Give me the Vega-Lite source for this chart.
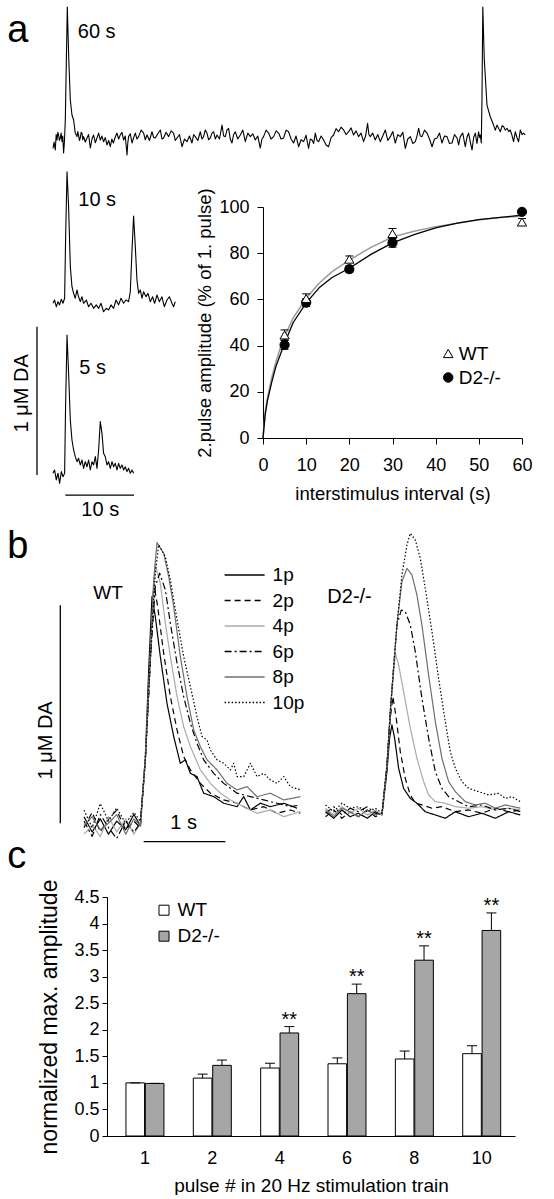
{
"$schema": "https://vega.github.io/schema/vega-lite/v6.json",
"padding": {"left": 7, "top": 6, "right": 0, "bottom": 0},
"background": "white",
"config": {
  "font": "Liberation Sans",
  "view": {"stroke": null},
  "axis": {"grid": false, "domainColor": "black", "tickColor": "black", "labelColor": "black", "titleColor": "black", "titleFontWeight": "normal", "labelFont": "Liberation Sans", "titleFont": "Liberation Sans", "domainWidth": 1, "tickWidth": 1, "labelOverlap": false},
  "legend": {"labelFont": "Liberation Sans", "labelColor": "black", "symbolOpacity": 1},
  "text": {"font": "Liberation Sans", "color": "black"},
  "line": {"strokeJoin": "round"}
},
"datasets": {
  "tr60": [
    {"t":-2.08,"v":-0.063},{"t":-1.92,"v":-0.02},{"t":-1.75,"v":-0.074},{"t":-1.62,"v":0.03},{"t":-1.5,"v":-0.007},{"t":-1.38,"v":0.045},{"t":-1.27,"v":0.027},{"t":-1.15,"v":-0.01},{"t":-1.02,"v":0.007},{"t":-0.9,"v":0.04},{"t":-0.77,"v":-0.018},{"t":-0.66,"v":0.02},{"t":-0.54,"v":-0.094},{"t":-0.42,"v":-0.02},{"t":-0.29,"v":0.128},{"t":0,"v":0.89},{"t":0.22,"v":0.533},{"t":0.44,"v":0.263},{"t":0.68,"v":0.162},{"t":0.92,"v":0.128},{"t":1.16,"v":0.04},
    {"t":1.41,"v":0.016},{"t":1.53,"v":0.05},{"t":1.64,"v":0.027},{"t":1.76,"v":-0.01},{"t":1.89,"v":0.007},{"t":2.01,"v":0.045},{"t":2.14,"v":0.04},{"t":2.25,"v":-0.005},{"t":2.37,"v":0.016},{"t":2.62,"v":-0.02},{"t":2.87,"v":0.007},{"t":3.1,"v":0.03},{"t":3.35,"v":-0.061},{"t":3.59,"v":0},{"t":3.83,"v":0.027},{"t":4.07,"v":-0.025},{"t":4.32,"v":0.007},{"t":4.56,"v":0.04},{"t":4.8,"v":-0.007},{"t":5.04,"v":0.02},{"t":5.28,"v":-0.018},{"t":5.53,"v":0.01},{"t":5.78,"v":-0.04},{"t":6.02,"v":-0.01},{"t":6.26,"v":-0.052},{"t":6.48,"v":0},{"t":6.7,"v":-0.027},{"t":6.96,"v":0.01},{"t":7.23,"v":0.04},{"t":7.47,"v":0},{"t":7.71,"v":0.027},{"t":7.95,"v":0.045},{"t":8.2,"v":-0.007},{"t":8.44,"v":0.02},{"t":8.69,"v":-0.108},{"t":8.8,"v":-0.03},{"t":8.92,"v":0.016},{"t":9.17,"v":0.035},{"t":9.42,"v":-0.027},{"t":9.66,"v":0.01},{"t":9.9,"v":0.04},{"t":10.14,"v":0},{"t":10.38,"v":0.016},{"t":10.75,"v":0.06},{"t":11.11,"v":0.04},{"t":11.35,"v":-0.005},{"t":11.6,"v":0.027},{"t":11.96,"v":-0.01},{"t":12.33,"v":0.049},{"t":12.57,"v":0.01},{"t":12.81,"v":0.007},{"t":13.17,"v":0.035},{"t":13.54,"v":0.061},{"t":13.78,"v":0},{"t":14.02,"v":0.007},{"t":14.38,"v":0.045},{"t":14.75,"v":0.016},{"t":15.11,"v":0.055},{"t":15.47,"v":0.04},{"t":15.72,"v":-0.01},{"t":15.97,"v":0.007},{"t":16.33,"v":0.03},{"t":16.7,"v":-0.052},{"t":17.06,"v":0},{"t":17.42,"v":-0.018},{"t":17.78,"v":0.02},{"t":18.15,"v":-0.027},{"t":18.39,"v":0.03},{"t":18.63,"v":0.016},{"t":19.0,"v":-0.01},{"t":19.36,"v":0.049},{"t":19.6,"v":0},{"t":19.84,"v":0.016},{"t":20.08,"v":0.06},{"t":20.33,"v":0.04},{"t":20.57,"v":-0.005},{"t":20.82,"v":0.007},{"t":21.06,"v":0.04},{"t":21.3,"v":0.049},{"t":21.55,"v":0},{"t":21.79,"v":0.027},{"t":22.15,"v":0},{"t":22.52,"v":0.094},{"t":22.76,"v":0.02},{"t":23.0,"v":0.016},{"t":23.24,"v":0.06},{"t":23.48,"v":0.072},{"t":23.72,"v":0},{"t":23.97,"v":-0.027},{"t":24.21,"v":0.03},{"t":24.45,"v":0.049},{"t":24.82,"v":0},{"t":25.18,"v":0.027},{"t":25.55,"v":0.06},{"t":25.91,"v":-0.018},{"t":26.28,"v":0.04},{"t":26.64,"v":0.016},{"t":27.0,"v":0.035},{"t":27.37,"v":-0.007},{"t":27.73,"v":0.02},{"t":28.09,"v":-0.061},{"t":28.33,"v":0},{"t":28.57,"v":0.016},{"t":28.94,"v":0.06},{"t":29.3,"v":0.04},{"t":29.66,"v":0},{"t":30.03,"v":0.016},{"t":30.4,"v":0.055},{"t":30.76,"v":0.04},{"t":31.12,"v":0},{"t":31.48,"v":0.007},{"t":31.85,"v":0.06},{"t":32.21,"v":0.049},{"t":32.57,"v":0},{"t":32.94,"v":-0.027},{"t":33.3,"v":0.02},{"t":33.67,"v":-0.052},{"t":34.03,"v":-0.005},{"t":34.4,"v":-0.018},{"t":34.76,"v":0.025},{"t":35.12,"v":-0.063},{"t":35.37,"v":0},{"t":35.62,"v":-0.007},{"t":35.86,"v":-0.03},{"t":36.1,"v":0.04},{"t":36.34,"v":-0.01},{"t":36.58,"v":-0.018},{"t":36.95,"v":0.02},{"t":37.31,"v":-0.007},{"t":37.67,"v":-0.04},{"t":38.03,"v":-0.052},{"t":38.4,"v":0.01},{"t":38.76,"v":0.027},{"t":39.12,"v":0.07},{"t":39.49,"v":0.049},{"t":39.85,"v":0.08},{"t":40.22,"v":0.061},{"t":40.58,"v":0.03},{"t":40.95,"v":0.049},{"t":41.31,"v":0.075},{"t":41.67,"v":0.027},{"t":42.04,"v":0.055},{"t":42.4,"v":0.016},{"t":42.76,"v":0.04},{"t":43.13,"v":-0.018},{"t":43.42,"v":0.02},{"t":43.71,"v":0.106},{"t":43.9,"v":0.03},{"t":44.1,"v":0.016},{"t":44.46,"v":0.04},{"t":44.83,"v":-0.007},{"t":45.19,"v":0.03},{"t":45.56,"v":-0.018},{"t":45.92,"v":0.02},{"t":46.29,"v":0.061},{"t":46.65,"v":-0.01},{"t":47.02,"v":0.016},{"t":47.38,"v":0.05},{"t":47.74,"v":-0.027},{"t":48.11,"v":0.03},{"t":48.47,"v":0.016},{"t":48.84,"v":0.045},{"t":49.2,"v":-0.063},{"t":49.56,"v":0},{"t":49.93,"v":0.016},{"t":50.3,"v":-0.03},{"t":50.66,"v":-0.018},{"t":50.9,"v":0.02},{"t":51.14,"v":0.072},{"t":51.38,"v":0.02},{"t":51.63,"v":0.016},{"t":52.0,"v":0.06},{"t":52.36,"v":0.04},{"t":52.72,"v":0},{"t":53.09,"v":-0.052},{"t":53.45,"v":0},{"t":53.81,"v":0.007},{"t":54.18,"v":0.04},{"t":54.54,"v":-0.027},{"t":54.9,"v":0.02},{"t":55.27,"v":0.016},{"t":55.63,"v":-0.03},{"t":56.0,"v":-0.027},{"t":56.36,"v":0.03},{"t":56.73,"v":0.007},{"t":56.96,"v":-0.04},{"t":57.2,"v":0.016},{"t":57.56,"v":0.04},{"t":57.93,"v":-0.052},{"t":58.17,"v":0.01},{"t":58.41,"v":0.04},{"t":58.66,"v":-0.02},{"t":58.91,"v":-0.074},{"t":59.15,"v":0.01},{"t":59.39,"v":0.04},{"t":59.63,"v":-0.03},{"t":59.87,"v":0.049},{"t":60.0,"v":0.01},{"t":60.12,"v":0.027},{"t":60.26,"v":-0.027},
    {"t":60.36,"v":0.263},{"t":60.48,"v":0.89},{"t":60.7,"v":0.533},{"t":61.09,"v":0.229},{"t":61.57,"v":0.15},{"t":62.05,"v":0.094},{"t":62.3,"v":0.06},{"t":62.55,"v":0.094},{"t":62.8,"v":0.07},{"t":63.03,"v":0.049},{"t":63.3,"v":0.09},{"t":63.52,"v":0.083},{"t":63.75,"v":0.06},{"t":64.0,"v":0.072},{"t":64.25,"v":0.05},{"t":64.48,"v":0.061},{"t":64.7,"v":0.03},{"t":64.96,"v":-0.018},{"t":65.21,"v":0.049},{"t":65.45,"v":0.01},{"t":65.69,"v":-0.018},{"t":65.94,"v":0.061},{"t":66.2,"v":0.03},{"t":66.42,"v":0.04},{"t":66.67,"v":0.027}
  ],
  "tr10": [
    {"t":-2.08,"v":-0.002},{"t":-1.85,"v":0.02},{"t":-1.6,"v":-0.025},{"t":-1.35,"v":0.009},{"t":-1.12,"v":-0.013},{"t":-0.87,"v":0.025},{"t":-0.63,"v":-0.002},{"t":-0.39,"v":0.032},{"t":-0.25,"v":0.425},{"t":-0.04,"v":0.885},{"t":0.19,"v":0.649},{"t":0.44,"v":0.245},{"t":0.68,"v":0.11},{"t":0.92,"v":0.065},{"t":1.16,"v":0.032},{"t":1.41,"v":0.088},{"t":1.64,"v":0.042},{"t":1.89,"v":0.009},{"t":2.14,"v":0.042},{"t":2.37,"v":-0.002},{"t":2.77,"v":0.02},{"t":3.1,"v":-0.025},{"t":3.45,"v":-0.002},{"t":3.83,"v":-0.036},{"t":4.22,"v":-0.013},{"t":4.56,"v":-0.036},{"t":4.91,"v":-0.002},{"t":5.28,"v":-0.059},{"t":5.68,"v":-0.036},{"t":6.01,"v":-0.047},{"t":6.36,"v":-0.013},{"t":6.74,"v":-0.036},{"t":7.09,"v":0.02},{"t":7.47,"v":-0.013},{"t":7.82,"v":0.032},{"t":8.2,"v":-0.002},{"t":8.54,"v":0.02},{"t":8.92,"v":0.009},{"t":9.17,"v":0.076},{"t":9.42,"v":0.357},{"t":9.65,"v":0.587},{"t":9.9,"v":0.38},{"t":10.14,"v":0.155},{"t":10.38,"v":0.065},{"t":10.63,"v":0.088},{"t":10.87,"v":0.032},{"t":11.11,"v":0.076},{"t":11.46,"v":0.042},{"t":11.75,"v":0.065},{"t":12.08,"v":0.009},{"t":12.42,"v":0.042},{"t":12.71,"v":-0.002},{"t":13.06,"v":0.054},{"t":13.39,"v":0.009},{"t":13.78,"v":0.042},{"t":14.12,"v":-0.025},{"t":14.51,"v":0.02},{"t":14.85,"v":0.042},{"t":15.24,"v":-0.002},{"t":15.47,"v":-0.025},{"t":15.72,"v":0.009}
  ],
  "tr5": [
    {"t":-2.08,"v":-0.022},{"t":-1.85,"v":0},{"t":-1.6,"v":-0.067},{"t":-1.35,"v":-0.022},{"t":-1.12,"v":-0.09},{"t":-0.87,"v":-0.011},{"t":-0.63,"v":-0.045},{"t":-0.39,"v":-0.022},{"t":-0.25,"v":0.427},{"t":-0.04,"v":0.91},{"t":0.19,"v":0.652},{"t":0.44,"v":0.337},{"t":0.68,"v":0.202},{"t":0.92,"v":0.135},{"t":1.16,"v":0.09},{"t":1.41,"v":0.056},{"t":1.64,"v":0.079},{"t":1.89,"v":0.034},{"t":2.14,"v":0.067},{"t":2.37,"v":0.011},{"t":2.62,"v":0.056},{"t":2.87,"v":0.022},{"t":3.1,"v":0.067},{"t":3.35,"v":0},{"t":3.6,"v":0.056},{"t":3.83,"v":0.034},{"t":4.08,"v":0.09},{"t":4.32,"v":0.011},{"t":4.56,"v":0.135},{"t":4.8,"v":0.326},{"t":5.05,"v":0.247},{"t":5.28,"v":0.113},{"t":5.53,"v":0.09},{"t":5.78,"v":0.034},{"t":6.01,"v":0.056},{"t":6.26,"v":0.011},{"t":6.51,"v":0.056},{"t":6.74,"v":0.022},{"t":6.99,"v":0.045},{"t":7.23,"v":0},{"t":7.47,"v":0.045},{"t":7.71,"v":0.011},{"t":7.96,"v":0.034},{"t":8.2,"v":0},{"t":8.44,"v":0.022},{"t":8.69,"v":-0.011},{"t":8.92,"v":0.011},{"t":9.17,"v":-0.022},{"t":9.42,"v":0},{"t":9.65,"v":-0.022}
  ],
  "curves": [
    {"c":"WT","x":0,"y":0},{"c":"WT","x":0.5,"y":11},{"c":"WT","x":1,"y":17},{"c":"WT","x":2,"y":26},{"c":"WT","x":3,"y":33},{"c":"WT","x":4,"y":39},{"c":"WT","x":5,"y":44},{"c":"WT","x":7,"y":52},{"c":"WT","x":10,"y":60.5},{"c":"WT","x":13,"y":67},{"c":"WT","x":16,"y":72},{"c":"WT","x":20,"y":77},{"c":"WT","x":25,"y":82.5},{"c":"WT","x":30,"y":87},{"c":"WT","x":35,"y":89.5},{"c":"WT","x":40,"y":91.5},{"c":"WT","x":45,"y":93},{"c":"WT","x":50,"y":94.5},{"c":"WT","x":55,"y":95.5},{"c":"WT","x":60,"y":96},
    {"c":"D2-/-","x":0,"y":0},{"c":"D2-/-","x":0.5,"y":10},{"c":"D2-/-","x":1,"y":16},{"c":"D2-/-","x":2,"y":24},{"c":"D2-/-","x":3,"y":31},{"c":"D2-/-","x":4,"y":36},{"c":"D2-/-","x":5,"y":41},{"c":"D2-/-","x":7,"y":50},{"c":"D2-/-","x":10,"y":58.5},{"c":"D2-/-","x":13,"y":65},{"c":"D2-/-","x":16,"y":69.5},{"c":"D2-/-","x":20,"y":73.5},{"c":"D2-/-","x":25,"y":79.5},{"c":"D2-/-","x":30,"y":84.5},{"c":"D2-/-","x":35,"y":88},{"c":"D2-/-","x":40,"y":91},{"c":"D2-/-","x":45,"y":93},{"c":"D2-/-","x":50,"y":94.5},{"c":"D2-/-","x":55,"y":95.5},{"c":"D2-/-","x":60,"y":96.5}
  ],
  "pts": [
    {"g":"D2-/-","x":5,"y":40.3,"lo":38.4,"hi":42.2},{"g":"D2-/-","x":10,"y":58.6,"lo":56.9,"hi":60.3},{"g":"D2-/-","x":20,"y":73.1,"lo":71.6,"hi":74.6},{"g":"D2-/-","x":30,"y":84.5,"lo":82.6,"hi":86.4},{"g":"D2-/-","x":60,"y":97.9,"lo":96.9,"hi":98.9},
    {"g":"WT","x":5,"y":44.6,"lo":42.4,"hi":46.8},{"g":"WT","x":10,"y":60.4,"lo":58.4,"hi":62.4},{"g":"WT","x":20,"y":77.4,"lo":76,"hi":78.8},{"g":"WT","x":30,"y":88.5,"lo":86.3,"hi":90.7},{"g":"WT","x":60,"y":93.5,"lo":92,"hi":95}
  ],
  "wt": [
    {"p":"1p","t":-0.71,"v":0.03},{"p":"1p","t":-0.61,"v":-0.04},{"p":"1p","t":-0.51,"v":0.02},{"p":"1p","t":-0.41,"v":-0.05},{"p":"1p","t":-0.31,"v":0.01},{"p":"1p","t":-0.2,"v":-0.03},{"p":"1p","t":-0.1,"v":0.04},{"p":"1p","t":-0.02,"v":-0.01},{"p":"1p","t":0.041,"v":0.306},{"p":"1p","t":0.082,"v":0.703},{"p":"1p","t":0.122,"v":1.04},{"p":"1p","t":0.163,"v":0.948},{"p":"1p","t":0.224,"v":0.765},{"p":"1p","t":0.306,"v":0.55},{"p":"1p","t":0.388,"v":0.398},{"p":"1p","t":0.469,"v":0.275},{"p":"1p","t":0.531,"v":0.291},{"p":"1p","t":0.592,"v":0.229},{"p":"1p","t":0.673,"v":0.214},{"p":"1p","t":0.755,"v":0.138},{"p":"1p","t":0.878,"v":0.122},{"p":"1p","t":1.0,"v":0.092},{"p":"1p","t":1.163,"v":0.076},{"p":"1p","t":1.245,"v":0.122},{"p":"1p","t":1.327,"v":0.061},{"p":"1p","t":1.449,"v":0.092},{"p":"1p","t":1.571,"v":0.076},{"p":"1p","t":1.735,"v":0.092},{"p":"1p","t":1.898,"v":0.069},
    {"p":"2p","t":-0.71,"v":-0.02},{"p":"2p","t":-0.61,"v":0.05},{"p":"2p","t":-0.51,"v":-0.04},{"p":"2p","t":-0.41,"v":0.02},{"p":"2p","t":-0.31,"v":0.06},{"p":"2p","t":-0.2,"v":-0.03},{"p":"2p","t":-0.1,"v":0.01},{"p":"2p","t":-0.02,"v":-0.02},{"p":"2p","t":0.041,"v":0.291},{"p":"2p","t":0.102,"v":0.734},{"p":"2p","t":0.143,"v":1.101},{"p":"2p","t":0.192,"v":0.994},{"p":"2p","t":0.265,"v":0.78},{"p":"2p","t":0.347,"v":0.581},{"p":"2p","t":0.429,"v":0.428},{"p":"2p","t":0.51,"v":0.306},{"p":"2p","t":0.592,"v":0.245},{"p":"2p","t":0.714,"v":0.183},{"p":"2p","t":0.837,"v":0.138},{"p":"2p","t":1.0,"v":0.107},{"p":"2p","t":1.163,"v":0.092},{"p":"2p","t":1.327,"v":0.061},{"p":"2p","t":1.49,"v":0.076},{"p":"2p","t":1.653,"v":0.046},{"p":"2p","t":1.816,"v":0.061},{"p":"2p","t":1.939,"v":0.046},
    {"p":"4p","t":-0.71,"v":-0.05},{"p":"4p","t":-0.61,"v":-0.01},{"p":"4p","t":-0.51,"v":-0.06},{"p":"4p","t":-0.41,"v":0.03},{"p":"4p","t":-0.31,"v":-0.04},{"p":"4p","t":-0.2,"v":0.02},{"p":"4p","t":-0.1,"v":-0.05},{"p":"4p","t":-0.02,"v":0},{"p":"4p","t":0.041,"v":0.306},{"p":"4p","t":0.102,"v":0.765},{"p":"4p","t":0.163,"v":1.185},{"p":"4p","t":0.224,"v":1.101},{"p":"4p","t":0.286,"v":0.917},{"p":"4p","t":0.347,"v":0.765},{"p":"4p","t":0.429,"v":0.581},{"p":"4p","t":0.51,"v":0.443},{"p":"4p","t":0.592,"v":0.352},{"p":"4p","t":0.714,"v":0.245},{"p":"4p","t":0.837,"v":0.183},{"p":"4p","t":0.959,"v":0.138},{"p":"4p","t":1.082,"v":0.107},{"p":"4p","t":1.245,"v":0.076},{"p":"4p","t":1.408,"v":0.046},{"p":"4p","t":1.571,"v":0.061},{"p":"4p","t":1.735,"v":0.03},{"p":"4p","t":1.939,"v":0.054},
    {"p":"6p","t":-0.71,"v":0.01},{"p":"6p","t":-0.61,"v":-0.06},{"p":"6p","t":-0.51,"v":0.04},{"p":"6p","t":-0.41,"v":-0.02},{"p":"6p","t":-0.31,"v":-0.07},{"p":"6p","t":-0.2,"v":0.01},{"p":"6p","t":-0.1,"v":-0.04},{"p":"6p","t":-0.02,"v":0},{"p":"6p","t":0.041,"v":0.291},{"p":"6p","t":0.102,"v":0.749},{"p":"6p","t":0.163,"v":1.086},{"p":"6p","t":0.216,"v":1.147},{"p":"6p","t":0.286,"v":1.07},{"p":"6p","t":0.347,"v":0.917},{"p":"6p","t":0.429,"v":0.734},{"p":"6p","t":0.51,"v":0.581},{"p":"6p","t":0.592,"v":0.459},{"p":"6p","t":0.673,"v":0.367},{"p":"6p","t":0.755,"v":0.291},{"p":"6p","t":0.878,"v":0.229},{"p":"6p","t":1.0,"v":0.183},{"p":"6p","t":1.163,"v":0.138},{"p":"6p","t":1.327,"v":0.122},{"p":"6p","t":1.49,"v":0.107},{"p":"6p","t":1.653,"v":0.092},{"p":"6p","t":1.816,"v":0.076},{"p":"6p","t":1.939,"v":0.084},
    {"p":"8p","t":-0.71,"v":-0.01},{"p":"8p","t":-0.61,"v":0.03},{"p":"8p","t":-0.51,"v":-0.03},{"p":"8p","t":-0.41,"v":0},{"p":"8p","t":-0.31,"v":0.04},{"p":"8p","t":-0.2,"v":-0.05},{"p":"8p","t":-0.1,"v":0.02},{"p":"8p","t":-0.02,"v":-0.01},{"p":"8p","t":0.041,"v":0.291},{"p":"8p","t":0.102,"v":0.78},{"p":"8p","t":0.143,"v":1.116},{"p":"8p","t":0.184,"v":1.287},{"p":"8p","t":0.265,"v":1.239},{"p":"8p","t":0.327,"v":1.131},{"p":"8p","t":0.388,"v":0.994},{"p":"8p","t":0.469,"v":0.765},{"p":"8p","t":0.551,"v":0.581},{"p":"8p","t":0.633,"v":0.428},{"p":"8p","t":0.714,"v":0.352},{"p":"8p","t":0.796,"v":0.291},{"p":"8p","t":0.918,"v":0.245},{"p":"8p","t":1.041,"v":0.183},{"p":"8p","t":1.163,"v":0.153},{"p":"8p","t":1.286,"v":0.168},{"p":"8p","t":1.408,"v":0.122},{"p":"8p","t":1.571,"v":0.138},{"p":"8p","t":1.735,"v":0.107},{"p":"8p","t":1.939,"v":0.122},
    {"p":"10p","t":-0.71,"v":0.06},{"p":"10p","t":-0.61,"v":-0.02},{"p":"10p","t":-0.51,"v":0.09},{"p":"10p","t":-0.41,"v":0.01},{"p":"10p","t":-0.31,"v":0.07},{"p":"10p","t":-0.2,"v":0},{"p":"10p","t":-0.1,"v":0.05},{"p":"10p","t":-0.02,"v":0.01},{"p":"10p","t":0.041,"v":0.291},{"p":"10p","t":0.102,"v":0.765},{"p":"10p","t":0.163,"v":1.147},{"p":"10p","t":0.204,"v":1.277},{"p":"10p","t":0.286,"v":1.223},{"p":"10p","t":0.347,"v":1.116},{"p":"10p","t":0.429,"v":0.933},{"p":"10p","t":0.51,"v":0.765},{"p":"10p","t":0.592,"v":0.627},{"p":"10p","t":0.673,"v":0.489},{"p":"10p","t":0.735,"v":0.398},{"p":"10p","t":0.796,"v":0.382},{"p":"10p","t":0.837,"v":0.336},{"p":"10p","t":0.918,"v":0.291},{"p":"10p","t":1.0,"v":0.275},{"p":"10p","t":1.082,"v":0.245},{"p":"10p","t":1.122,"v":0.275},{"p":"10p","t":1.163,"v":0.214},{"p":"10p","t":1.245,"v":0.214},{"p":"10p","t":1.327,"v":0.275},{"p":"10p","t":1.408,"v":0.214},{"p":"10p","t":1.49,"v":0.229},{"p":"10p","t":1.571,"v":0.199},{"p":"10p","t":1.653,"v":0.183},{"p":"10p","t":1.735,"v":0.214},{"p":"10p","t":1.816,"v":0.168},{"p":"10p","t":1.939,"v":0.153}
  ],
  "d2": [
    {"p":"1p","t":-0.71,"v":0.015},{"p":"1p","t":-0.61,"v":-0.015},{"p":"1p","t":-0.51,"v":0.023},{"p":"1p","t":-0.41,"v":-0.008},{"p":"1p","t":-0.31,"v":0.008},{"p":"1p","t":-0.2,"v":-0.015},{"p":"1p","t":-0.1,"v":0.015},{"p":"1p","t":-0.02,"v":0},{"p":"1p","t":0.041,"v":0.199},{"p":"1p","t":0.073,"v":0.352},{"p":"1p","t":0.102,"v":0.413},{"p":"1p","t":0.135,"v":0.352},{"p":"1p","t":0.184,"v":0.214},{"p":"1p","t":0.245,"v":0.122},{"p":"1p","t":0.327,"v":0.076},{"p":"1p","t":0.408,"v":0.054},{"p":"1p","t":0.51,"v":0.015},{"p":"1p","t":0.633,"v":0},{"p":"1p","t":0.755,"v":-0.015},{"p":"1p","t":0.878,"v":0.015},{"p":"1p","t":1.041,"v":-0.008},{"p":"1p","t":1.204,"v":0.008},{"p":"1p","t":1.367,"v":-0.015},{"p":"1p","t":1.531,"v":0.015},{"p":"1p","t":1.673,"v":0},
    {"p":"2p","t":-0.71,"v":-0.008},{"p":"2p","t":-0.61,"v":0.023},{"p":"2p","t":-0.51,"v":-0.015},{"p":"2p","t":-0.41,"v":0.015},{"p":"2p","t":-0.31,"v":-0.008},{"p":"2p","t":-0.2,"v":0.023},{"p":"2p","t":-0.1,"v":-0.008},{"p":"2p","t":-0.02,"v":0.008},{"p":"2p","t":0.041,"v":0.214},{"p":"2p","t":0.082,"v":0.443},{"p":"2p","t":0.114,"v":0.543},{"p":"2p","t":0.155,"v":0.443},{"p":"2p","t":0.204,"v":0.291},{"p":"2p","t":0.265,"v":0.168},{"p":"2p","t":0.327,"v":0.092},{"p":"2p","t":0.388,"v":0.054},{"p":"2p","t":0.469,"v":0.046},{"p":"2p","t":0.592,"v":0.031},{"p":"2p","t":0.714,"v":0.038},{"p":"2p","t":0.878,"v":0.015},{"p":"2p","t":1.041,"v":0.023},{"p":"2p","t":1.204,"v":0.008},{"p":"2p","t":1.367,"v":0.031},{"p":"2p","t":1.531,"v":0.015},{"p":"2p","t":1.673,"v":0.023},
    {"p":"4p","t":-0.71,"v":0.031},{"p":"4p","t":-0.61,"v":0},{"p":"4p","t":-0.51,"v":0.038},{"p":"4p","t":-0.41,"v":0.008},{"p":"4p","t":-0.31,"v":0.031},{"p":"4p","t":-0.2,"v":0},{"p":"4p","t":-0.1,"v":0.023},{"p":"4p","t":-0.02,"v":0},{"p":"4p","t":0.041,"v":0.229},{"p":"4p","t":0.082,"v":0.474},{"p":"4p","t":0.143,"v":0.742},{"p":"4p","t":0.184,"v":0.688},{"p":"4p","t":0.245,"v":0.566},{"p":"4p","t":0.327,"v":0.398},{"p":"4p","t":0.408,"v":0.26},{"p":"4p","t":0.49,"v":0.153},{"p":"4p","t":0.551,"v":0.092},{"p":"4p","t":0.633,"v":0.061},{"p":"4p","t":0.755,"v":0.054},{"p":"4p","t":0.878,"v":0.038},{"p":"4p","t":1.041,"v":0.031},{"p":"4p","t":1.204,"v":0.038},{"p":"4p","t":1.367,"v":0.023},{"p":"4p","t":1.531,"v":0.031},{"p":"4p","t":1.673,"v":0.023},
    {"p":"6p","t":-0.71,"v":0.008},{"p":"6p","t":-0.61,"v":0.038},{"p":"6p","t":-0.51,"v":0},{"p":"6p","t":-0.41,"v":0.031},{"p":"6p","t":-0.31,"v":0.015},{"p":"6p","t":-0.2,"v":0.038},{"p":"6p","t":-0.1,"v":0.008},{"p":"6p","t":-0.02,"v":0},{"p":"6p","t":0.041,"v":0.229},{"p":"6p","t":0.082,"v":0.474},{"p":"6p","t":0.122,"v":0.673},{"p":"6p","t":0.163,"v":0.872},{"p":"6p","t":0.216,"v":0.94},{"p":"6p","t":0.265,"v":0.933},{"p":"6p","t":0.327,"v":0.872},{"p":"6p","t":0.388,"v":0.749},{"p":"6p","t":0.469,"v":0.535},{"p":"6p","t":0.551,"v":0.352},{"p":"6p","t":0.633,"v":0.199},{"p":"6p","t":0.714,"v":0.122},{"p":"6p","t":0.796,"v":0.084},{"p":"6p","t":0.918,"v":0.061},{"p":"6p","t":1.041,"v":0.038},{"p":"6p","t":1.204,"v":0.046},{"p":"6p","t":1.367,"v":0.023},{"p":"6p","t":1.531,"v":0.031},{"p":"6p","t":1.673,"v":0.015},
    {"p":"8p","t":-0.71,"v":0.023},{"p":"8p","t":-0.61,"v":-0.008},{"p":"8p","t":-0.51,"v":0.031},{"p":"8p","t":-0.41,"v":0.015},{"p":"8p","t":-0.31,"v":-0.008},{"p":"8p","t":-0.2,"v":0.023},{"p":"8p","t":-0.1,"v":0},{"p":"8p","t":-0.02,"v":0.008},{"p":"8p","t":0.041,"v":0.229},{"p":"8p","t":0.082,"v":0.474},{"p":"8p","t":0.122,"v":0.673},{"p":"8p","t":0.163,"v":0.872},{"p":"8p","t":0.224,"v":1.07},{"p":"8p","t":0.286,"v":1.131},{"p":"8p","t":0.347,"v":1.101},{"p":"8p","t":0.408,"v":1.009},{"p":"8p","t":0.469,"v":0.872},{"p":"8p","t":0.551,"v":0.642},{"p":"8p","t":0.633,"v":0.428},{"p":"8p","t":0.714,"v":0.26},{"p":"8p","t":0.796,"v":0.153},{"p":"8p","t":0.878,"v":0.107},{"p":"8p","t":1.0,"v":0.061},{"p":"8p","t":1.122,"v":0.046},{"p":"8p","t":1.245,"v":0.054},{"p":"8p","t":1.367,"v":0.031},{"p":"8p","t":1.49,"v":0.046},{"p":"8p","t":1.673,"v":0.031},
    {"p":"10p","t":-0.71,"v":0.046},{"p":"10p","t":-0.61,"v":0.015},{"p":"10p","t":-0.51,"v":0.054},{"p":"10p","t":-0.41,"v":0.031},{"p":"10p","t":-0.31,"v":0.038},{"p":"10p","t":-0.2,"v":0.015},{"p":"10p","t":-0.1,"v":0.031},{"p":"10p","t":-0.02,"v":0.008},{"p":"10p","t":0.041,"v":0.229},{"p":"10p","t":0.082,"v":0.474},{"p":"10p","t":0.122,"v":0.673},{"p":"10p","t":0.163,"v":0.872},{"p":"10p","t":0.224,"v":1.101},{"p":"10p","t":0.286,"v":1.239},{"p":"10p","t":0.327,"v":1.292},{"p":"10p","t":0.388,"v":1.261},{"p":"10p","t":0.449,"v":1.177},{"p":"10p","t":0.51,"v":1.04},{"p":"10p","t":0.592,"v":0.841},{"p":"10p","t":0.673,"v":0.627},{"p":"10p","t":0.755,"v":0.428},{"p":"10p","t":0.816,"v":0.291},{"p":"10p","t":0.878,"v":0.214},{"p":"10p","t":0.959,"v":0.153},{"p":"10p","t":1.041,"v":0.122},{"p":"10p","t":1.163,"v":0.107},{"p":"10p","t":1.286,"v":0.092},{"p":"10p","t":1.408,"v":0.099},{"p":"10p","t":1.49,"v":0.076},{"p":"10p","t":1.571,"v":0.084},{"p":"10p","t":1.673,"v":0.061}
  ],
  "bars": [
    {"p":1,"g":"WT","m":1.0,"e":1.0,"s":""},{"p":1,"g":"D2-/-","m":0.99,"e":0.99,"s":""},
    {"p":2,"g":"WT","m":1.09,"e":1.165,"s":""},{"p":2,"g":"D2-/-","m":1.33,"e":1.43,"s":""},
    {"p":4,"g":"WT","m":1.28,"e":1.37,"s":""},{"p":4,"g":"D2-/-","m":1.94,"e":2.06,"s":"**"},
    {"p":6,"g":"WT","m":1.36,"e":1.47,"s":""},{"p":6,"g":"D2-/-","m":2.68,"e":2.86,"s":"**"},
    {"p":8,"g":"WT","m":1.45,"e":1.6,"s":""},{"p":8,"g":"D2-/-","m":3.31,"e":3.58,"s":"**"},
    {"p":10,"g":"WT","m":1.55,"e":1.7,"s":""},{"p":10,"g":"D2-/-","m":3.87,"e":4.2,"s":"**"}
  ]
},
"spacing": 60,
"bounds": "flush",
"resolve": {
  "scale": {"color": "independent", "fill": "independent", "shape": "independent", "strokeDash": "independent"}
},
"vconcat": [
  {
    "width": 415, "height": 231,
    "resolve": {"scale": {"x": "independent", "y": "independent"}},
    "layer": [
      {
        "layer": [
          {"data": {"name": "curves"}, "transform": [{"filter": "datum.c === 'WT'"}], "mark": {"type": "line", "strokeWidth": 1.5, "color": "#9a9a9a"},
           "encoding": {
             "x": {"field": "x", "type": "quantitative", "scale": {"domain": [0, 60], "range": [156, 415], "nice": false}, "axis": {"orient": "bottom", "values": [0,10,20,30,40,50,60], "title": "interstimulus interval (s)", "labelFontSize": 18, "titleFontSize": 18.5, "tickSize": 6, "labelPadding": 12, "titlePadding": 10, "labelFlush": false}},
             "y": {"field": "y", "type": "quantitative", "scale": {"domain": [0, 100], "nice": false}, "axis": {"orient": "left", "offset": -156, "values": [0,20,40,60,80,100], "title": "2.pulse amplitude (% of 1. pulse)", "labelFontSize": 18, "titleFontSize": 18.5, "tickSize": 6, "labelPadding": 8, "titlePadding": 4}}}},
          {"data": {"name": "curves"}, "transform": [{"filter": "datum.c === 'D2-/-'"}], "mark": {"type": "line", "strokeWidth": 1.3, "color": "black"},
           "encoding": {
             "x": {"field": "x", "type": "quantitative", "scale": {"domain": [0, 60], "range": [156, 415], "nice": false}, "axis": {"orient": "bottom", "values": [0,10,20,30,40,50,60], "title": "interstimulus interval (s)", "labelFontSize": 18, "titleFontSize": 18.5, "tickSize": 6, "labelPadding": 12, "titlePadding": 10, "labelFlush": false}},
             "y": {"field": "y", "type": "quantitative", "scale": {"domain": [0, 100], "nice": false}, "axis": {"orient": "left", "offset": -156, "values": [0,20,40,60,80,100], "title": "2.pulse amplitude (% of 1. pulse)", "labelFontSize": 18, "titleFontSize": 18.5, "tickSize": 6, "labelPadding": 8, "titlePadding": 4}}}},
          {"data": {"name": "pts"}, "mark": {"type": "rule", "color": "black", "strokeWidth": 1},
           "encoding": {
             "x": {"field": "x", "type": "quantitative", "scale": {"domain": [0, 60], "range": [156, 415], "nice": false}, "axis": {"orient": "bottom", "values": [0,10,20,30,40,50,60], "title": "interstimulus interval (s)", "labelFontSize": 18, "titleFontSize": 18.5, "tickSize": 6, "labelPadding": 12, "titlePadding": 10, "labelFlush": false}},
             "y": {"field": "lo", "type": "quantitative", "scale": {"domain": [0, 100], "nice": false}, "axis": {"orient": "left", "offset": -156, "values": [0,20,40,60,80,100], "title": "2.pulse amplitude (% of 1. pulse)", "labelFontSize": 18, "titleFontSize": 18.5, "tickSize": 6, "labelPadding": 8, "titlePadding": 4}},
             "y2": {"field": "hi"}}},
          {"data": {"name": "pts"}, "mark": {"type": "tick", "orient": "horizontal", "size": 8, "thickness": 1, "color": "black", "opacity": 1},
           "encoding": {
             "x": {"field": "x", "type": "quantitative", "scale": {"domain": [0, 60], "range": [156, 415], "nice": false}, "axis": {"orient": "bottom", "values": [0,10,20,30,40,50,60], "title": "interstimulus interval (s)", "labelFontSize": 18, "titleFontSize": 18.5, "tickSize": 6, "labelPadding": 12, "titlePadding": 10, "labelFlush": false}},
             "y": {"field": "hi", "type": "quantitative", "scale": {"domain": [0, 100], "nice": false}, "axis": {"orient": "left", "offset": -156, "values": [0,20,40,60,80,100], "title": "2.pulse amplitude (% of 1. pulse)", "labelFontSize": 18, "titleFontSize": 18.5, "tickSize": 6, "labelPadding": 8, "titlePadding": 4}}}},
          {"data": {"name": "pts"}, "mark": {"type": "tick", "orient": "horizontal", "size": 8, "thickness": 1, "color": "black", "opacity": 1},
           "encoding": {
             "x": {"field": "x", "type": "quantitative", "scale": {"domain": [0, 60], "range": [156, 415], "nice": false}, "axis": {"orient": "bottom", "values": [0,10,20,30,40,50,60], "title": "interstimulus interval (s)", "labelFontSize": 18, "titleFontSize": 18.5, "tickSize": 6, "labelPadding": 12, "titlePadding": 10, "labelFlush": false}},
             "y": {"field": "lo", "type": "quantitative", "scale": {"domain": [0, 100], "nice": false}, "axis": {"orient": "left", "offset": -156, "values": [0,20,40,60,80,100], "title": "2.pulse amplitude (% of 1. pulse)", "labelFontSize": 18, "titleFontSize": 18.5, "tickSize": 6, "labelPadding": 8, "titlePadding": 4}}}},
          {"data": {"name": "pts"}, "mark": {"type": "point", "filled": true, "stroke": "black", "strokeWidth": 1, "size": 85, "opacity": 1},
           "encoding": {
             "x": {"field": "x", "type": "quantitative", "scale": {"domain": [0, 60], "range": [156, 415], "nice": false}, "axis": {"orient": "bottom", "values": [0,10,20,30,40,50,60], "title": "interstimulus interval (s)", "labelFontSize": 18, "titleFontSize": 18.5, "tickSize": 6, "labelPadding": 12, "titlePadding": 10, "labelFlush": false}},
             "y": {"field": "y", "type": "quantitative", "scale": {"domain": [0, 100], "nice": false}, "axis": {"orient": "left", "offset": -156, "values": [0,20,40,60,80,100], "title": "2.pulse amplitude (% of 1. pulse)", "labelFontSize": 18, "titleFontSize": 18.5, "tickSize": 6, "labelPadding": 8, "titlePadding": 4}},
             "fill": {"field": "g", "type": "nominal", "scale": {"domain": ["WT", "D2-/-"], "range": ["white", "black"]},
                      "legend": {"title": null, "orient": "none", "legendX": 331.7, "legendY": 137, "labelFontSize": 19, "symbolSize": 90, "symbolStrokeColor": "black", "symbolStrokeWidth": 1, "rowPadding": 4, "labelOffset": 1, "padding": 0,
                                 "encode": {"symbols": {"update": {"stroke": {"value": "black"}, "strokeWidth": {"value": 1}, "opacity": {"value": 1}}}}}},
             "shape": {"field": "g", "type": "nominal", "scale": {"domain": ["WT", "D2-/-"], "range": ["triangle-up", "circle"]},
                      "legend": {"title": null, "orient": "none", "legendX": 331.7, "legendY": 137, "labelFontSize": 19, "symbolSize": 90, "symbolStrokeColor": "black", "symbolStrokeWidth": 1, "rowPadding": 4, "labelOffset": 1, "padding": 0,
                                 "encode": {"symbols": {"update": {"stroke": {"value": "black"}, "strokeWidth": {"value": 1}, "opacity": {"value": 1}}}}}}}}
        ]
      },
      {
        "resolve": {"scale": {"y": "independent"}},
        "layer": [
          {"layer": [
            {"data": {"name": "tr60"}, "mark": {"type": "line", "color": "black", "strokeWidth": 1.1},
             "encoding": {"x": {"field": "t", "type": "quantitative", "scale": {"domain": [5.779, 66.187], "nice": false, "zero": false}, "axis": null},
                          "y": {"field": "v", "type": "quantitative", "scale": {"domain": [-2.0162, -0.4585], "nice": false, "zero": false}, "axis": null}}},
            {"data": {"values": [{}]}, "mark": {"type": "text", "fontSize": 38, "align": "left", "baseline": "alphabetic"},
             "encoding": {"x": {"datum": -8.734, "type": "quantitative", "scale": {"domain": [5.779, 66.187], "nice": false, "zero": false}, "axis": null},
                          "y": {"datum": 0.656, "type": "quantitative", "scale": {"domain": [-2.0162, -0.4585], "nice": false, "zero": false}, "axis": null},
                          "text": {"value": "a"}}},
            {"data": {"values": [{}]}, "mark": {"type": "text", "fontSize": 20, "align": "left", "baseline": "middle"},
             "encoding": {"x": {"datum": 1.53, "type": "quantitative", "scale": {"domain": [5.779, 66.187], "nice": false, "zero": false}, "axis": null},
                          "y": {"datum": 0.7235, "type": "quantitative", "scale": {"domain": [-2.0162, -0.4585], "nice": false, "zero": false}, "axis": null},
                          "text": {"value": "60 s"}}}
          ]},
          {"layer": [
            {"data": {"name": "tr10"}, "mark": {"type": "line", "color": "black", "strokeWidth": 1.1},
             "encoding": {"x": {"field": "t", "type": "quantitative", "scale": {"domain": [5.779, 66.187], "nice": false, "zero": false}, "axis": null},
                          "y": {"field": "v", "type": "quantitative", "scale": {"domain": [-0.9104, 0.6473], "nice": false, "zero": false}, "axis": null}}},
            {"data": {"values": [{}]}, "mark": {"type": "text", "fontSize": 20, "align": "left", "baseline": "middle"},
             "encoding": {"x": {"datum": 1.6, "type": "quantitative", "scale": {"domain": [5.779, 66.187], "nice": false, "zero": false}, "axis": null},
                          "y": {"datum": 0.695, "type": "quantitative", "scale": {"domain": [-0.9104, 0.6473], "nice": false, "zero": false}, "axis": null},
                          "text": {"value": "10 s"}}}
          ]},
          {"layer": [
            {"data": {"name": "tr5"}, "mark": {"type": "line", "color": "black", "strokeWidth": 1.1},
             "encoding": {"x": {"field": "t", "type": "quantitative", "scale": {"domain": [5.779, 66.187], "nice": false, "zero": false}, "axis": null},
                          "y": {"field": "v", "type": "quantitative", "scale": {"domain": [0.2157, 1.7734], "nice": false, "zero": false}, "axis": null}}},
            {"data": {"values": [{}]}, "mark": {"type": "rule", "color": "black", "strokeWidth": 1.3},
             "encoding": {"x": {"datum": -4.41, "type": "quantitative", "scale": {"domain": [5.779, 66.187], "nice": false, "zero": false}, "axis": null},
                          "y": {"datum": -0.034, "type": "quantitative", "scale": {"domain": [0.2157, 1.7734], "nice": false, "zero": false}, "axis": null},
                          "y2": {"datum": 0.966}}},
            {"data": {"values": [{}]}, "mark": {"type": "rule", "color": "black", "strokeWidth": 1.3},
             "encoding": {"x": {"datum": -0.29, "type": "quantitative", "scale": {"domain": [5.779, 66.187], "nice": false, "zero": false}, "axis": null},
                          "x2": {"datum": 9.71},
                          "y": {"datum": -0.169, "type": "quantitative", "scale": {"domain": [0.2157, 1.7734], "nice": false, "zero": false}, "axis": null}}},
            {"data": {"values": [{}]}, "mark": {"type": "text", "fontSize": 20, "align": "left", "baseline": "middle"},
             "encoding": {"x": {"datum": 1.75, "type": "quantitative", "scale": {"domain": [5.779, 66.187], "nice": false, "zero": false}, "axis": null},
                          "y": {"datum": 0.688, "type": "quantitative", "scale": {"domain": [0.2157, 1.7734], "nice": false, "zero": false}, "axis": null},
                          "text": {"value": "5 s"}}},
            {"data": {"values": [{}]}, "mark": {"type": "text", "fontSize": 20, "align": "center", "baseline": "middle"},
             "encoding": {"x": {"datum": 4.8, "type": "quantitative", "scale": {"domain": [5.779, 66.187], "nice": false, "zero": false}, "axis": null},
                          "y": {"datum": -0.27, "type": "quantitative", "scale": {"domain": [0.2157, 1.7734], "nice": false, "zero": false}, "axis": null},
                          "text": {"value": "10 s"}}},
            {"data": {"values": [{}]}, "mark": {"type": "text", "fontSize": 20, "align": "center", "baseline": "middle", "angle": 270},
             "encoding": {"x": {"datum": -6.55, "type": "quantitative", "scale": {"domain": [5.779, 66.187], "nice": false, "zero": false}, "axis": null},
                          "y": {"datum": 0.517, "type": "quantitative", "scale": {"domain": [0.2157, 1.7734], "nice": false, "zero": false}, "axis": null},
                          "text": {"value": "1 μM DA"}}}
          ]}
        ]
      }
    ]
  },
  {
    "width": 413, "height": 339,
    "resolve": {"scale": {"x": "independent", "y": "independent"}},
    "layer": [
      {"layer": [
        {"data": {"name": "wt"}, "mark": {"type": "line", "strokeWidth": 1.2},
         "encoding": {
           "x": {"field": "t", "type": "quantitative", "scale": {"domain": [-0.4284, 4.6267], "nice": false, "zero": false}, "axis": null},
           "y": {"field": "v", "type": "quantitative", "scale": {"domain": [-0.063, 1.492], "nice": false, "zero": false}, "axis": null},
           "color": {"field": "p", "type": "nominal", "scale": {"domain": ["1p","2p","4p","6p","8p","10p"], "range": ["black","black","#aaaaaa","black","#6e6e6e","black"]},
                     "legend": {"title": null, "orient": "none", "legendX": 116.6, "legendY": 67, "symbolType": "stroke", "symbolSize": 1600, "clipHeight": 20, "rowPadding": 5.5, "labelFontSize": 19, "labelOffset": 7, "symbolStrokeWidth": 1.3, "symbolOpacity": 1, "padding": 0}},
           "strokeDash": {"field": "p", "type": "nominal", "scale": {"domain": ["1p","2p","4p","6p","8p","10p"], "range": [[1,0],[6,4],[1,0],[7,3,2,3],[1,0],[1.5,2]]},
                     "legend": {"title": null, "orient": "none", "legendX": 116.6, "legendY": 67, "symbolType": "stroke", "symbolSize": 1600, "clipHeight": 20, "rowPadding": 5.5, "labelFontSize": 19, "labelOffset": 7, "symbolStrokeWidth": 1.3, "symbolOpacity": 1, "padding": 0}}}},
        {"data": {"values": [{}]}, "mark": {"type": "rule", "color": "black", "strokeWidth": 1.3},
         "encoding": {"x": {"datum": -1.0, "type": "quantitative", "scale": {"domain": [-0.4284, 4.6267], "nice": false, "zero": false}, "axis": null},
                      "y": {"datum": 0.0, "type": "quantitative", "scale": {"domain": [-0.063, 1.492], "nice": false, "zero": false}, "axis": null},
                      "y2": {"datum": 1.0}}},
        {"data": {"values": [{}]}, "mark": {"type": "rule", "color": "black", "strokeWidth": 1.3},
         "encoding": {"x": {"datum": 0.02, "type": "quantitative", "scale": {"domain": [-0.4284, 4.6267], "nice": false, "zero": false}, "axis": null},
                      "x2": {"datum": 1.02},
                      "y": {"datum": -0.084, "type": "quantitative", "scale": {"domain": [-0.063, 1.492], "nice": false, "zero": false}, "axis": null}}},
        {"data": {"values": [{}]}, "mark": {"type": "text", "fontSize": 20, "align": "center", "baseline": "middle"},
         "encoding": {"x": {"datum": 0.509, "type": "quantitative", "scale": {"domain": [-0.4284, 4.6267], "nice": false, "zero": false}, "axis": null},
                      "y": {"datum": 0.0, "type": "quantitative", "scale": {"domain": [-0.063, 1.492], "nice": false, "zero": false}, "axis": null},
                      "text": {"value": "1 s"}}},
        {"data": {"values": [{}]}, "mark": {"type": "text", "fontSize": 20, "align": "center", "baseline": "middle", "angle": 270},
         "encoding": {"x": {"datum": -1.18, "type": "quantitative", "scale": {"domain": [-0.4284, 4.6267], "nice": false, "zero": false}, "axis": null},
                      "y": {"datum": 0.38, "type": "quantitative", "scale": {"domain": [-0.063, 1.492], "nice": false, "zero": false}, "axis": null},
                      "text": {"value": "1 μM DA"}}},
        {"data": {"values": [{}]}, "mark": {"type": "text", "fontSize": 19, "align": "left", "baseline": "middle"},
         "encoding": {"x": {"datum": -0.596, "type": "quantitative", "scale": {"domain": [-0.4284, 4.6267], "nice": false, "zero": false}, "axis": null},
                      "y": {"datum": 1.056, "type": "quantitative", "scale": {"domain": [-0.063, 1.492], "nice": false, "zero": false}, "axis": null},
                      "text": {"value": "WT"}}},
        {"data": {"values": [{}]}, "mark": {"type": "text", "fontSize": 38, "align": "left", "baseline": "alphabetic"},
         "encoding": {"x": {"datum": -1.649, "type": "quantitative", "scale": {"domain": [-0.4284, 4.6267], "nice": false, "zero": false}, "axis": null},
                      "y": {"datum": 1.217, "type": "quantitative", "scale": {"domain": [-0.063, 1.492], "nice": false, "zero": false}, "axis": null},
                      "text": {"value": "b"}}},
        {"data": {"values": [{}]}, "mark": {"type": "text", "fontSize": 38, "align": "left", "baseline": "alphabetic"},
         "encoding": {"x": {"datum": -1.649, "type": "quantitative", "scale": {"domain": [-0.4284, 4.6267], "nice": false, "zero": false}, "axis": null},
                      "y": {"datum": -0.205, "type": "quantitative", "scale": {"domain": [-0.063, 1.492], "nice": false, "zero": false}, "axis": null},
                      "text": {"value": "c"}}}
      ]},
      {"layer": [
        {"data": {"name": "d2"}, "mark": {"type": "line", "strokeWidth": 1.2},
         "encoding": {
           "x": {"field": "t", "type": "quantitative", "scale": {"domain": [-3.3856, 1.6695], "nice": false, "zero": false}, "axis": null},
           "y": {"field": "v", "type": "quantitative", "scale": {"domain": [-0.101, 1.454], "nice": false, "zero": false}, "axis": null},
           "color": {"field": "p", "type": "nominal", "scale": {"domain": ["1p","2p","4p","6p","8p","10p"], "range": ["black","black","#aaaaaa","black","#6e6e6e","black"]},
                     "legend": {"title": null, "orient": "none", "legendX": 116.6, "legendY": 67, "symbolType": "stroke", "symbolSize": 1600, "clipHeight": 20, "rowPadding": 5.5, "labelFontSize": 19, "labelOffset": 7, "symbolStrokeWidth": 1.3, "symbolOpacity": 1, "padding": 0}},
           "strokeDash": {"field": "p", "type": "nominal", "scale": {"domain": ["1p","2p","4p","6p","8p","10p"], "range": [[1,0],[6,4],[1,0],[7,3,2,3],[1,0],[1.5,2]]},
                     "legend": {"title": null, "orient": "none", "legendX": 116.6, "legendY": 67, "symbolType": "stroke", "symbolSize": 1600, "clipHeight": 20, "rowPadding": 5.5, "labelFontSize": 19, "labelOffset": 7, "symbolStrokeWidth": 1.3, "symbolOpacity": 1, "padding": 0}}}},
        {"data": {"values": [{}]}, "mark": {"type": "text", "fontSize": 20, "align": "left", "baseline": "middle"},
         "encoding": {"x": {"datum": -0.689, "type": "quantitative", "scale": {"domain": [-3.3856, 1.6695], "nice": false, "zero": false}, "axis": null},
                      "y": {"datum": 1.001, "type": "quantitative", "scale": {"domain": [-0.101, 1.454], "nice": false, "zero": false}, "axis": null},
                      "text": {"value": "D2-/-"}}}
      ]}
    ]
  },
  {
    "width": 408, "height": 239,
    "data": {"name": "bars"},
    "encoding": {
      "x": {"field": "p", "type": "ordinal", "scale": {"type": "band", "paddingInner": 0.436, "paddingOuter": 0.247, "align": 0.57},
            "axis": {"title": "pulse # in 20 Hz stimulation train", "labelAngle": 0, "ticks": false, "labelFontSize": 18, "titleFontSize": 19, "labelPadding": 13, "titlePadding": 9}},
      "xOffset": {"field": "g", "type": "nominal", "scale": {"domain": ["WT", "D2-/-"], "paddingInner": 0.04, "paddingOuter": 0}}
    },
    "layer": [
      {"mark": {"type": "bar", "stroke": "black", "strokeWidth": 1},
       "encoding": {
         "y": {"field": "m", "type": "quantitative", "scale": {"domain": [0, 4.5], "nice": false},
               "axis": {"values": [0,0.5,1,1.5,2,2.5,3,3.5,4,4.5], "format": "~g", "title": "normalized max. amplitude", "titleFontSize": 23, "labelFontSize": 18, "tickSize": 5, "labelPadding": 3, "titlePadding": 12}},
         "fill": {"field": "g", "type": "nominal", "scale": {"domain": ["WT", "D2-/-"], "range": ["white", "#a6a6a6"]},
                  "legend": {"title": null, "orient": "none", "legendX": 47.5, "legendY": 3.7, "symbolType": "square", "symbolSize": 100, "symbolStrokeColor": "black", "symbolStrokeWidth": 1, "labelFontSize": 19, "rowPadding": 6, "labelOffset": 4, "padding": 0}}}},
      {"mark": {"type": "rule", "color": "black", "strokeWidth": 1},
       "encoding": {
         "y": {"field": "m", "type": "quantitative", "scale": {"domain": [0, 4.5], "nice": false},
               "axis": {"values": [0,0.5,1,1.5,2,2.5,3,3.5,4,4.5], "format": "~g", "title": "normalized max. amplitude", "titleFontSize": 23, "labelFontSize": 18, "tickSize": 5, "labelPadding": 3, "titlePadding": 12}},
         "y2": {"field": "e"}}},
      {"mark": {"type": "tick", "orient": "horizontal", "size": 10, "thickness": 1, "color": "black", "opacity": 1},
       "encoding": {
         "y": {"field": "e", "type": "quantitative", "scale": {"domain": [0, 4.5], "nice": false},
               "axis": {"values": [0,0.5,1,1.5,2,2.5,3,3.5,4,4.5], "format": "~g", "title": "normalized max. amplitude", "titleFontSize": 23, "labelFontSize": 18, "tickSize": 5, "labelPadding": 3, "titlePadding": 12}}}},
      {"mark": {"type": "text", "fontSize": 20, "baseline": "alphabetic", "align": "center", "dy": -1},
       "encoding": {
         "y": {"field": "e", "type": "quantitative", "scale": {"domain": [0, 4.5], "nice": false},
               "axis": {"values": [0,0.5,1,1.5,2,2.5,3,3.5,4,4.5], "format": "~g", "title": "normalized max. amplitude", "titleFontSize": 23, "labelFontSize": 18, "tickSize": 5, "labelPadding": 3, "titlePadding": 12}},
         "text": {"field": "s"}}}
    ]
  }
]
}
